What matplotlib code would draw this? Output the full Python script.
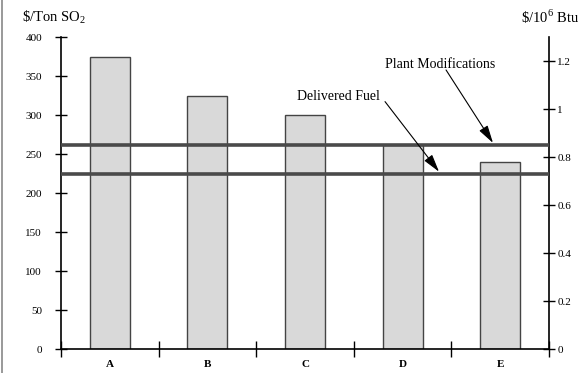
import numpy as np
import matplotlib
matplotlib.use("Agg")
import matplotlib.pyplot as plt
from matplotlib.lines import Line2D

plt.rcParams['font.family'] = ['Liberation Serif', 'DejaVu Serif']
plt.rcParams['mathtext.fontset'] = 'custom'
plt.rcParams['mathtext.rm'] = 'Liberation Serif'

categories = ['A', 'B', 'C', 'D', 'E']
cost_per_ton = [375, 325, 300, 262, 240]          # $/Ton SO2
plant_modifications = 0.85                         # $/10^6 Btu
delivered_fuel = 0.73                              # $/10^6 Btu
left_ticks = [0, 50, 100, 150, 200, 250, 300, 350, 400]
right_ticks = [0, 0.2, 0.4, 0.6, 0.8, 1.0, 1.2]
right_labels = ['0', '0.2', '0.4', '0.6', '0.8', '1', '1.2']

fig = plt.figure(figsize=(5.84, 3.73), dpi=100)
ax = fig.add_axes([61/584, 1-349.3/373, 488/584, 312/373])

x = np.arange(len(categories))
ax.bar(x, cost_per_ton, width=0.41, color='#d9d9d9', edgecolor='#444444', linewidth=1.0, zorder=2)

ax.set_xlim(-0.5, len(categories) - 0.5)
ax.set_ylim(0, 400)
ax.set_yticks(left_ticks)
ax.tick_params(axis='y', direction='inout', length=8.5, width=1, labelsize=8, pad=9.5)
ax.set_xticks(x)
ax.set_xticklabels(categories, fontweight='bold', fontsize=8)
ax.tick_params(axis='x', which='major', length=0, pad=8)
ax.set_xticks(np.arange(-0.5, len(categories)), minor=True)
ax.tick_params(axis='x', which='minor', direction='inout', length=11, width=1)
for s in ['top', 'right']:
    ax.spines[s].set_visible(False)
for s in ['left', 'bottom']:
    ax.spines[s].set_linewidth(1.2)

ax2 = ax.twinx()
ax2.set_ylim(0, 1.3)
ax2.set_yticks(right_ticks)
ax2.set_yticklabels(right_labels)
ax2.tick_params(axis='y', direction='inout', length=8, width=1, labelsize=8, pad=2)
for s in ['top', 'left', 'bottom']:
    ax2.spines[s].set_visible(False)
ax2.spines['right'].set_linewidth(1.2)

ax2.axhline(plant_modifications, color='#4a4a4a', linewidth=2.6, solid_capstyle='projecting', zorder=3)
ax2.axhline(delivered_fuel, color='#4a4a4a', linewidth=2.6, solid_capstyle='projecting', zorder=3)

arrow = dict(arrowstyle='-|>,head_length=0.9,head_width=0.25', color='black', lw=0.8, mutation_scale=12,
             shrinkA=0, shrinkB=0)
ax2.text(3.38, 1.185, 'Plant Modifications', ha='center', va='center', fontsize=10)
ax2.annotate('', xy=(3.926, plant_modifications + 0.01), xytext=(3.445, 1.164), arrowprops=arrow)
ax2.text(2.34, 1.052, 'Delivered Fuel', ha='center', va='center', fontsize=10)
ax2.annotate('', xy=(3.373, delivered_fuel + 0.01), xytext=(2.82, 1.032), arrowprops=arrow)

fig.text(22/584, 1-17/373, r'\$/Ton SO$_{\mathrm{2}}$', fontsize=10.5, va='center', ha='left')
fig.text(521/584, 1-17/373, r'\$/10$^{\mathrm{6}}$ Btu', fontsize=10.5, va='center', ha='left')

fig.add_artist(Line2D([1.5/584, 1.5/584], [0, 1], color='#888888', lw=1.2))

fig.savefig('out.png', dpi=100)
